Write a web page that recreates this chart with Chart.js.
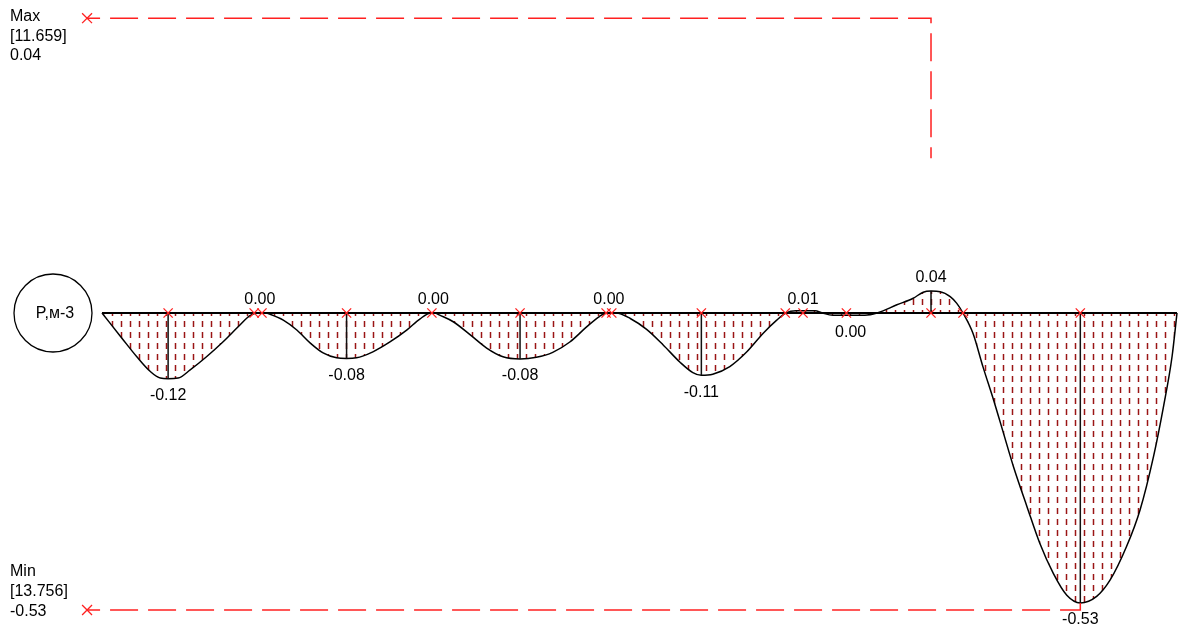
<!DOCTYPE html>
<html>
<head>
<meta charset="utf-8">
<script src="https://cdn.jsdelivr.net/npm/chart.js@4.4.0/dist/chart.umd.min.js"></script>
<style>
  html, body { margin: 0; padding: 0; background: #fff; }
  #wrap { width: 1179px; height: 633px; }
</style>
</head>
<body>
<div id="wrap"><canvas id="epure" width="1179" height="633"></canvas></div>
<script>
// Эпюра P, м-3 вдоль балки (x в метрах)
const curveX = [0, 0.28, 0.49, 0.68, 0.82, 0.93, 1.07, 1.24, 1.47, 1.70, 1.94, 2.08, 2.18, 2.25, 2.31,
  2.36, 2.55, 2.74, 2.93, 3.11, 3.30, 3.44, 3.58, 3.81, 4.05, 4.29, 4.47, 4.63,
  4.68, 4.75, 4.94, 5.18, 5.41, 5.64, 5.88, 6.11, 6.34, 6.58, 6.82, 7.00, 7.10, 7.17,
  7.23, 7.43, 7.66, 7.89, 8.13, 8.31, 8.43, 8.59, 8.83, 9.07, 9.30, 9.49, 9.62,
  9.76, 10.03, 10.13, 10.28, 10.73, 10.90,
  11.18, 11.41, 11.55, 11.66, 11.79, 11.93, 12.02, 12.11,
  12.25, 12.39, 12.54, 12.68, 12.82, 13.01, 13.19, 13.38, 13.57, 13.76, 13.99, 14.18, 14.41, 14.60, 14.79, 14.93, 15.05, 15.12];
const curveV = [0, -0.046, -0.080, -0.107, -0.119, -0.120, -0.119, -0.104, -0.080, -0.053, -0.022, -0.005, 0, 0, 0,
  -0.002, -0.013, -0.031, -0.055, -0.073, -0.082, -0.083, -0.082, -0.071, -0.053, -0.031, -0.011, 0,
  0, -0.004, -0.016, -0.040, -0.064, -0.080, -0.084, -0.081, -0.072, -0.053, -0.025, -0.006, 0, 0,
  0, -0.010, -0.030, -0.058, -0.090, -0.109, -0.114, -0.112, -0.098, -0.071, -0.037, -0.013, 0,
  0.004, 0.004, 0, -0.004, -0.004, 0,
  0.015, 0.027, 0.038, 0.040, 0.039, 0.030, 0.018, 0,
  -0.037, -0.098, -0.159, -0.220, -0.281, -0.354, -0.421, -0.476, -0.516, -0.530, -0.518, -0.488, -0.427, -0.360, -0.262, -0.171, -0.080, 0];

// экстремумы и подписи
const extX = [0.93, 3.44, 5.88, 8.43, 11.66, 13.76];
const extV = [-0.120, -0.083, -0.084, -0.114, 0.040, -0.530];
const extLabels = ['-0.12', '-0.08', '-0.08', '-0.11', '0.04', '-0.53'];

// подписи нулевых точек
const zeroX = [2.22, 4.66, 7.13, 9.86, 10.53];
const zeroLabels = ['0.00', '0.00', '0.00', '0.01', '0.00'];
const zeroSide = ['up', 'up', 'up', 'up', 'down'];

// красные крестики на оси
const crossX = [0.93, 2.14, 2.25, 3.44, 4.64, 5.88, 7.09, 7.17, 8.43, 9.61, 9.86, 10.47, 11.66, 12.11, 13.76];

const beamStart = 0, beamEnd = 15.12;
const maxPos = '11.659', maxText = '0.04';
const minPos = '13.756', minText = '-0.53';
const maxX = 11.66, minX = 13.76, minV = -0.53;

// положение пунктирных линий Max/Min
const guideStart = -0.21;
const maxGuideY = 0.539, maxGuideEnd = 0.283;
const minGuideY = -0.543;

const RED = '#ff2020';
const FONT = '16px "Liberation Sans", Arial, sans-serif';
const canvas = document.getElementById('epure');
const ctx0 = canvas.getContext('2d');

// штриховка: вертикальные пунктирные линии
function makeHatch() {
    const c = document.createElement('canvas');
    c.width = 9; c.height = 11;
    const g = c.getContext('2d');
    g.strokeStyle = '#9b1515';
    g.lineWidth = 1.5;
    g.beginPath();
    g.moveTo(4.5, 2);
    g.lineTo(4.5, 8);
    g.stroke();
    return ctx0.createPattern(c, 'repeat');
}

const extDatasets = extX.map((x, i) => ({
    data: [{ x: x, y: 0 }, { x: x, y: extV[i] }],
    borderColor: '#111',
    borderWidth: 1.5,
    pointRadius: 0,
    order: 2
}));

const notes = {
    id: 'notes',
    afterDatasetsDraw(chart) {
        const { ctx, scales: { x, y } } = chart;
        ctx.save();
        ctx.font = FONT;
        ctx.fillStyle = '#000';
        ctx.textAlign = 'center';
        ctx.textBaseline = 'middle';

        extX.forEach((v, i) => {
            const py = y.getPixelForValue(extV[i]) + (extV[i] < 0 ? 17 : -14);
            ctx.fillText(extLabels[i], x.getPixelForValue(v), py);
        });

        const y0 = y.getPixelForValue(0);
        zeroX.forEach((v, i) => {
            const py = zeroSide[i] === 'up' ? y0 - 13 : y0 + 20;
            ctx.fillText(zeroLabels[i], x.getPixelForValue(v), py);
        });

        // кружок с названием эпюры
        const cx = x.getPixelForValue(beamStart) - 49;
        ctx.beginPath();
        ctx.arc(cx, y0, 39, 0, Math.PI * 2);
        ctx.fillStyle = '#fff';
        ctx.fill();
        ctx.lineWidth = 1.3;
        ctx.strokeStyle = '#000';
        ctx.stroke();
        ctx.fillStyle = '#000';
        ctx.fillText('P,м-3', cx + 2, y0 + 1);

        // блоки Max / Min
        ctx.textAlign = 'left';
        ['Max', '[' + maxPos + ']', maxText].forEach((t, i) => ctx.fillText(t, 10, 17 + i * 19.5));
        ['Min', '[' + minPos + ']', minText].forEach((t, i) => ctx.fillText(t, 10, 572 + i * 20));
        ctx.restore();
    }
};

new Chart(canvas, {
    type: 'line',
    data: {
        datasets: [
            {
                // крестики
                data: crossX.map(v => ({ x: v, y: 0 })),
                showLine: false,
                pointStyle: 'crossRot',
                pointRadius: 6.5,
                pointBorderColor: RED,
                pointBorderWidth: 1.3,
                order: 0
            },
            {
                data: [{ x: guideStart, y: maxGuideY }, { x: maxX, y: maxGuideY }, { x: maxX, y: maxGuideEnd }],
                borderColor: RED,
                borderWidth: 1.5,
                borderDash: [28, 10],
                borderDashOffset: 15,
                pointStyle: 'crossRot',
                pointRadius: [7, 0, 0],
                pointBorderColor: RED,
                pointBorderWidth: 1.3,
                order: 1
            },
            {
                data: [{ x: guideStart, y: minGuideY }, { x: minX, y: minGuideY }, { x: minX, y: minV }],
                borderColor: RED,
                borderWidth: 1.5,
                borderDash: [28, 10],
                borderDashOffset: 15,
                pointStyle: 'crossRot',
                pointRadius: [7, 0, 0],
                pointBorderColor: RED,
                pointBorderWidth: 1.3,
                order: 1
            },
            ...extDatasets,
            {
                // ось балки
                data: [{ x: beamStart, y: 0 }, { x: beamEnd, y: 0 }],
                borderColor: '#000',
                borderWidth: 1.8,
                pointRadius: 0,
                order: 3
            },
            {
                // эпюра
                data: curveX.map((v, i) => ({ x: v, y: curveV[i] })),
                borderColor: '#000',
                borderWidth: 1.5,
                pointRadius: 0,
                cubicInterpolationMode: 'monotone',
                fill: 'origin',
                backgroundColor: makeHatch(),
                order: 4
            }
        ]
    },
    options: {
        responsive: false,
        animation: false,
        events: [],
        layout: { padding: 0, autoPadding: false },
        scales: {
            x: { type: 'linear', min: -1.4346, max: 15.148, display: false },
            y: { type: 'linear', min: -0.585, max: 0.5722, display: false }
        },
        plugins: {
            legend: { display: false },
            tooltip: { enabled: false }
        }
    },
    plugins: [notes]
});
</script>
</body>
</html>
